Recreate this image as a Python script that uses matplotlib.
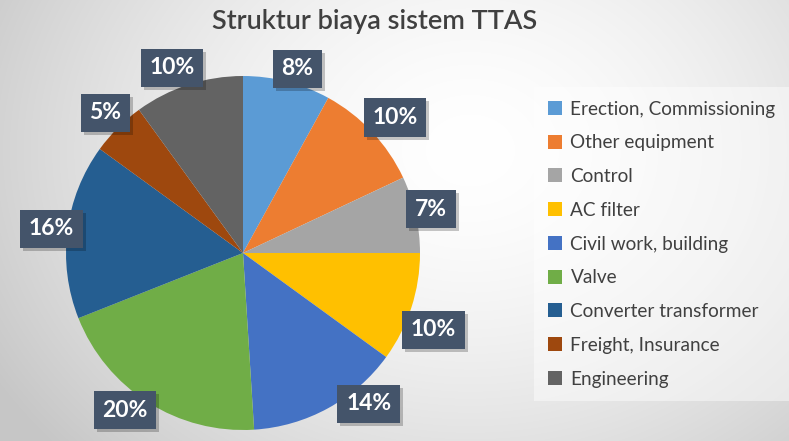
import numpy as np
import matplotlib
matplotlib.use("Agg")
import matplotlib.pyplot as plt
from matplotlib.patches import Patch, Rectangle

plt.rcParams['font.family'] = ['Lato', 'DejaVu Sans']

title = "Struktur biaya sistem TTAS"
categories = ["Erection, Commissioning", "Other equipment", "Control", "AC filter",
              "Civil work, building", "Valve", "Converter transformer",
              "Freight, Insurance", "Engineering"]
values = [8, 10, 7, 10, 14, 20, 16, 5, 10]
labels = ["8%", "10%", "7%", "10%", "14%", "20%", "16%", "5%", "10%"]
colors = ["#5B9BD5", "#ED7D31", "#A5A5A5", "#FFC000", "#4472C4",
          "#70AD47", "#255E91", "#9E480E", "#636363"]
# small angular nudges (degrees) for label placement, like Excel's best fit
label_nudge = [-2, -1.5, 0.5, -4, 11, -4.5, 0, -0.5, 3]
label_rad = [1.085, 1.15, 1.09, 1.16, 1.11, 1.11, 1.09, 1.11, 1.12]

W, H = 789, 441
fig = plt.figure(figsize=(W / 100, H / 100), dpi=100)

# background gradient
bg = fig.add_axes([0, 0, 1, 1], zorder=-10)
yy, xx = np.mgrid[0:H, 0:W]
cx, cy = 470, 150
d = np.sqrt(((xx - cx) / 520.0) ** 2 + ((yy - cy) / 420.0) ** 2)
v = np.clip(1.0 - 0.20 * d ** 1.6, 0.78, 1.0)
img = np.dstack([v, v, v])
bg.imshow(img, aspect='auto', extent=[0, 1, 0, 1], interpolation='bilinear')
bg.set_axis_off()

# pie axes
R = 177.0
cxp, cyp = 243.0, 253.0
half = 250.0
ax = fig.add_axes([(cxp - half) / W, (H - cyp - half) / H, 2 * half / W, 2 * half / H])
ax.patch.set_alpha(0)

wedges, _ = ax.pie(values, colors=colors, startangle=90, counterclock=False,
                   radius=1.0, wedgeprops=dict(linewidth=0))
ax.set_xlim(-half / R, half / R)
ax.set_ylim(-half / R, half / R)
ax.set_aspect('equal')
ax.set_axis_off()

total = float(sum(values))
cum = 0.0
label_texts = []
for i, (val, lab) in enumerate(zip(values, labels)):
    mid = 90 - 360 * (cum + val / 2) / total + label_nudge[i]
    cum += val
    r = label_rad[i]
    x = r * np.cos(np.radians(mid))
    y = r * np.sin(np.radians(mid))
    t = ax.text(x, y, lab, ha='center', va='center', fontsize=16.5, fontweight='bold',
                color='white',
                bbox=dict(boxstyle='square,pad=0.38', facecolor='#44546A', edgecolor='none'),
                zorder=5)
    label_texts.append(t)

fig.text(375 / W, 1 - 22 / H, title, ha='center', va='center', fontsize=19.5,
         fontweight='semibold', color='#404040')

handles = [Patch(facecolor=c, edgecolor='none') for c in colors]
leg = fig.legend(handles, categories, loc='upper left', bbox_to_anchor=(540 / W, 1 - 93 / H),
                 frameon=True, fontsize=13.7, handlelength=0.75, handleheight=0.75,
                 handletextpad=0.45, labelspacing=0.88, borderpad=0.4, borderaxespad=0)
leg.get_frame().set_facecolor('white')
leg.get_frame().set_alpha(0.45)
leg.get_frame().set_edgecolor('none')
leg.get_frame().set_boxstyle('square')
for t in leg.get_texts():
    t.set_color('#404040')

# shadows behind label boxes (drawn in the pie axes, below the labels)
fig.canvas.draw()
inv = ax.transData.inverted()
for t in label_texts:
    bb = t.get_bbox_patch().get_window_extent()
    (dx0, dy0) = inv.transform((bb.x0 + 3, bb.y0 - 3))
    (dx1, dy1) = inv.transform((bb.x1 + 3, bb.y1 - 3))
    ax.add_patch(Rectangle((dx0, dy0), dx1 - dx0, dy1 - dy0, facecolor='black',
                           alpha=0.22, edgecolor='none', zorder=4, clip_on=False))

fig.savefig("out.png", dpi=100)
